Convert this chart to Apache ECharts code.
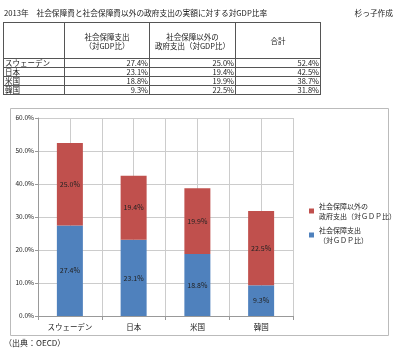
<!DOCTYPE html>
<html><head><meta charset="utf-8">
<script src="https://cdn.jsdelivr.net/npm/echarts@6/dist/echarts.min.js"></script>
<style>
html,body{margin:0;padding:0;background:#fff;}
#wrap{position:relative;width:400px;height:356px;font-family:"Noto Sans CJK JP","Noto Sans",sans-serif;color:#222;}
#chart{position:absolute;left:0;top:0;width:400px;height:356px;}
#title{position:absolute;left:4px;top:7px;font-size:7.7px;white-space:nowrap;}
#author{position:absolute;right:7px;top:7px;font-size:7.7px;white-space:nowrap;}
#tbl{position:absolute;left:3px;top:22px;border-collapse:collapse;font-size:7.5px;}
#tbl td{border:1px solid #555;padding:0 1px;line-height:8px;height:8px;}
#tbl td.h{height:35px;text-align:center;line-height:9px;}
#tbl td.n{text-align:right;}
#src{position:absolute;left:4px;top:337px;font-size:8px;white-space:nowrap;}
</style></head>
<body><div id="wrap">
<div id="chart"></div>
<div id="title">2013年　社会保障費と社会保障費以外の政府支出の実額に対する対GDP比率</div>
<div id="author">杉っ子作成</div>
<table id="tbl"></table>
<div id="src">（出典：OECD）</div>
</div>
<script>
const categories = ['スウェーデン','日本','米国','韓国'];
const socialSpending = [27.4, 23.1, 18.8, 9.3];
const otherSpending = [25.0, 19.4, 19.9, 22.5];
const totals = [52.4, 42.5, 38.7, 31.8];
const tableHeaders = ['', '社会保障支出<br>（対GDP比）', '社会保障以外の<br>政府支出（対GDP比）', '合計'];
const seriesNames = ['社会保障支出\n（対ＧＤＰ比）', '社会保障以外の\n政府支出（対ＧＤＰ比）'];
const yTicks = [0, 10, 20, 30, 40, 50, 60];

// table
const widths = [61, 85, 86, 85];
let html = '<tr>' + tableHeaders.map((h,i)=>`<td class="h" style="width:${widths[i]-3}px">${h}</td>`).join('') + '</tr>';
categories.forEach((c,i)=>{
  html += `<tr><td>${c}</td><td class="n">${socialSpending[i].toFixed(1)}%</td><td class="n">${otherSpending[i].toFixed(1)}%</td><td class="n">${totals[i].toFixed(1)}%</td></tr>`;
});
document.getElementById('tbl').innerHTML = html;

const chart = echarts.init(document.getElementById('chart'));
const labelStyle = {show:true, position:'inside', fontSize:7, color:'#222', formatter: p => p.value.toFixed(1)+'%'};
chart.setOption({
  animation:false,
  textStyle:{fontFamily:'"Noto Sans CJK JP","Noto Sans",sans-serif'},
  graphic:[{type:'rect', shape:{x:10.5,y:108.5,width:378,height:227}, style:{fill:'none', stroke:'#bbb', lineWidth:1}, z:-1}],
  grid:{left:38, right:107, top:118, bottom:40},
  xAxis:[
    {type:'category', data:categories, axisLine:{lineStyle:{color:'#999'}}, axisTick:{show:true, length:4, lineStyle:{color:'#999'}},
     axisLabel:{fontSize:7.5, color:'#222', margin:7}, splitLine:{show:false}},
    {type:'value', min:0, max:4, interval:0.5, show:true, position:'top', axisLine:{show:false}, axisTick:{show:false}, axisLabel:{show:false},
     splitLine:{show:true, lineStyle:{color:'#ccc'}}}
  ],
  yAxis:{type:'value', min:yTicks[0], max:yTicks[yTicks.length-1], interval:10,
    axisLine:{show:true, lineStyle:{color:'#999'}}, axisTick:{show:true, length:3, lineStyle:{color:'#999'}},
    axisLabel:{fontSize:6.5, color:'#222', formatter: v => v.toFixed(1)+'%', margin:4},
    splitLine:{lineStyle:{color:'#ccc'}}},
  legend:{orient:'vertical', left:304, top:196, itemWidth:5, itemHeight:5, itemGap:4,
    data:[seriesNames[1], seriesNames[0]], textStyle:{fontSize:7, color:'#222', lineHeight:10}, icon:'rect', itemStyle:{borderWidth:0}},
  series:[
    {name:seriesNames[0], type:'bar', stack:'a', data:socialSpending, barWidth:26, itemStyle:{color:'#4F81BD'}, label:labelStyle},
    {name:seriesNames[1], type:'bar', stack:'a', data:otherSpending, barWidth:26, itemStyle:{color:'#C0504D'}, label:labelStyle}
  ]
});
</script>
</body></html>
